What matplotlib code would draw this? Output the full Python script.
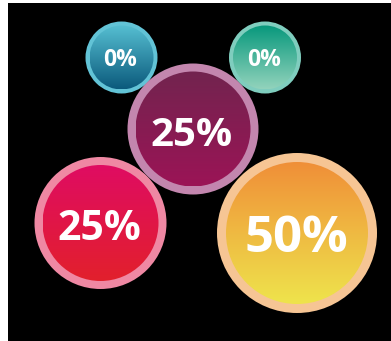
import matplotlib
matplotlib.use("Agg")
import matplotlib.pyplot as plt
import numpy as np
from matplotlib.colors import LinearSegmentedColormap
from matplotlib.patches import Circle, Rectangle

# data
labels = ["0%", "0%", "25%", "25%", "50%"]
values = [0, 0, 25, 25, 50]

# layout (pixel space of the 391x341 canvas, y downwards)
centers_x = [121.5, 265, 193, 100.5, 297]
centers_y = [57.5, 57.5, 129, 223, 233]
radii = [36, 36, 65.5, 66, 80]
ring_widths = [4, 4, 8, 8, 9]
font_sizes = [16.5, 16.5, 29, 29.5, 36.5]
baseline_offsets = [8.5, 8.5, 17.5, 16.5, 19]

# styles: (top colour, bottom colour, ring colour)
styles = [
    ("#56bfd2", "#0b5a7c", "#62c3d6"),
    ("#07987c", "#92d3bc", "#7fcdbe"),
    ("#72244f", "#9b1456", "#c386ae"),
    ("#df0c62", "#e2202c", "#ef88a3"),
    ("#f08f38", "#eee44c", "#f6c594"),
]

W, H = 391, 341
fig = plt.figure(figsize=(W / 100, H / 100), dpi=100)
fig.patch.set_facecolor("white")
ax = fig.add_axes([0, 0, 1, 1])
ax.axis("off")

ax.add_patch(Rectangle((8, 3), W - 8, H - 3, facecolor="black", edgecolor="none", zorder=0))

grad = np.linspace(0, 1, 256).reshape(-1, 1)

for i, label in enumerate(labels):
    cx, cy, r = centers_x[i], centers_y[i], radii[i]
    top, bottom, ring = styles[i]
    z = 2 + i * 3
    ax.add_patch(Circle((cx, cy), r, facecolor=ring, edgecolor="none", zorder=z))
    inner_r = r - ring_widths[i]
    clip = Circle((cx, cy), inner_r, facecolor="none", edgecolor="none",
                  transform=ax.transData)
    ax.add_patch(clip)
    cmap = LinearSegmentedColormap.from_list(f"g{i}", [top, bottom])
    im = ax.imshow(grad, cmap=cmap, aspect="auto",
                   extent=(cx - inner_r, cx + inner_r, cy + inner_r, cy - inner_r),
                   origin="upper", zorder=z + 1, interpolation="bilinear")
    im.set_clip_path(clip)
    ax.text(cx - 1, cy + baseline_offsets[i], label, ha="center", va="baseline",
            color="white", fontsize=font_sizes[i], fontweight="bold",
            family=["Open Sans", "DejaVu Sans"], zorder=z + 2)

ax.set_xlim(0, W)
ax.set_ylim(H, 0)

fig.savefig("out.png", dpi=100, facecolor=fig.get_facecolor())
